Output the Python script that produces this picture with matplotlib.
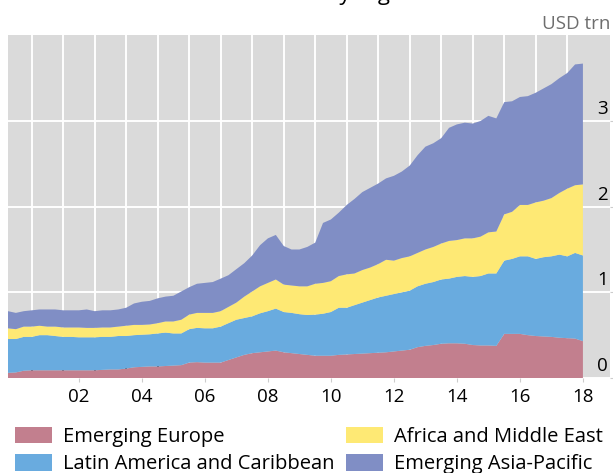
import matplotlib
matplotlib.use('Agg')
import matplotlib.pyplot as plt
import matplotlib.dates as mdates
import matplotlib.transforms as mtransforms
import pandas as pd

plt.rcParams['font.family'] = ['Open Sans', 'DejaVu Sans']

# quarterly, 2000Q1 - 2018Q2, USD trn
quarters = pd.date_range('2000-03-31', periods=74, freq='QE')

emerging_europe = [
    0.06, 0.065, 0.085, 0.09, 0.09, 0.09, 0.09, 0.09, 0.09, 0.09,
    0.09, 0.09, 0.095, 0.10, 0.10, 0.11, 0.125, 0.13, 0.135, 0.135,
    0.14, 0.145, 0.15, 0.18, 0.185, 0.18, 0.18, 0.18, 0.21, 0.24,
    0.27, 0.29, 0.30, 0.31, 0.32, 0.30, 0.29, 0.28, 0.27, 0.26,
    0.26, 0.26, 0.27, 0.275, 0.28, 0.285, 0.29, 0.295, 0.30, 0.31,
    0.32, 0.33, 0.36, 0.375, 0.385, 0.40, 0.405, 0.405, 0.40, 0.385,
    0.38, 0.38, 0.375, 0.515, 0.515, 0.515, 0.50, 0.49, 0.485, 0.48,
    0.47, 0.465, 0.46, 0.43]
latin_america = [
    0.395, 0.39, 0.395, 0.39, 0.41, 0.41, 0.40, 0.39, 0.39, 0.385,
    0.385, 0.385, 0.385, 0.38, 0.39, 0.38, 0.375, 0.375, 0.375, 0.385,
    0.39, 0.375, 0.37, 0.39, 0.40, 0.40, 0.40, 0.42, 0.43, 0.44,
    0.43, 0.43, 0.455, 0.47, 0.49, 0.47, 0.47, 0.465, 0.465, 0.48,
    0.49, 0.51, 0.55, 0.545, 0.57, 0.595, 0.62, 0.645, 0.66, 0.67,
    0.68, 0.69, 0.71, 0.725, 0.735, 0.75, 0.755, 0.775, 0.79, 0.795,
    0.81, 0.84, 0.845, 0.855, 0.875, 0.905, 0.92, 0.90, 0.925, 0.94,
    0.97, 0.955, 1.00, 1.00]
africa_middle_east = [
    0.125, 0.115, 0.12, 0.12, 0.11, 0.10, 0.11, 0.11, 0.11, 0.115,
    0.11, 0.11, 0.11, 0.11, 0.11, 0.12, 0.12, 0.115, 0.115, 0.12,
    0.13, 0.14, 0.16, 0.17, 0.175, 0.18, 0.18, 0.18, 0.19, 0.20,
    0.25, 0.29, 0.315, 0.33, 0.34, 0.32, 0.32, 0.325, 0.335, 0.36,
    0.36, 0.36, 0.37, 0.39, 0.37, 0.38, 0.38, 0.39, 0.42, 0.39,
    0.40, 0.40, 0.39, 0.40, 0.41, 0.42, 0.44, 0.43, 0.44, 0.45,
    0.46, 0.48, 0.49, 0.54, 0.55, 0.60, 0.60, 0.66, 0.66, 0.68,
    0.72, 0.79, 0.79, 0.83]
emerging_asia = [
    0.20, 0.19, 0.18, 0.19, 0.19, 0.20, 0.20, 0.20, 0.20, 0.20,
    0.215, 0.195, 0.20, 0.20, 0.20, 0.21, 0.25, 0.27, 0.275, 0.29,
    0.29, 0.30, 0.33, 0.32, 0.34, 0.35, 0.36, 0.38, 0.37, 0.39,
    0.39, 0.42, 0.48, 0.52, 0.52, 0.45, 0.42, 0.43, 0.46, 0.48,
    0.70, 0.72, 0.74, 0.81, 0.87, 0.91, 0.93, 0.94, 0.95, 0.99,
    1.01, 1.06, 1.14, 1.20, 1.21, 1.23, 1.32, 1.35, 1.35, 1.34,
    1.35, 1.36, 1.32, 1.31, 1.29, 1.26, 1.27, 1.28, 1.31, 1.33,
    1.34, 1.35, 1.41, 1.41]

labels = ['Emerging Europe', 'Latin America and Caribbean',
          'Africa and Middle East', 'Emerging Asia-Pacific']
colors = ['#c27f8e', '#69abdf', '#fee974', '#808ec5']

label_years = [2002, 2004, 2006, 2008, 2010, 2012, 2014, 2016, 2018]
label_text = ['02', '04', '06', '08', '10', '12', '14', '16', '18']
yticks = [0, 1, 2, 3]

fig = plt.figure(figsize=(6.13, 4.73), dpi=100)
ax = fig.add_axes([8 / 613, 1 - 378 / 473, 602 / 613, 342.7 / 473])
ax.set_facecolor('#dadada')

ax.stackplot(quarters, emerging_europe, latin_america, africa_middle_east,
             emerging_asia, labels=labels, colors=colors, lw=0, zorder=2)

ax.set_xlim(quarters[0], pd.Timestamp('2019-05-10'))
ax.set_ylim(0, 4)

# labels mid-year, black ticks and white grid at year boundaries
ax.xaxis.set_major_locator(plt.FixedLocator(
    [mdates.date2num(pd.Timestamp(y, 7, 2)) for y in label_years]))
ax.xaxis.set_major_formatter(plt.FixedFormatter(label_text))
ax.xaxis.set_minor_locator(plt.FixedLocator(
    [mdates.date2num(pd.Timestamp(y, 1, 1)) for y in range(2001, 2019)]))
ax.tick_params(axis='x', which='major', direction='out', length=3,
               color='#cccccc', labelsize=13.5, pad=4)
ax.tick_params(axis='x', which='minor', direction='in', length=9.5,
               width=1.4, color='#111111')
ax.grid(True, which='minor', axis='x', color='white', lw=1.4, zorder=1)
ax.set_axisbelow(True)

ax.set_yticks(yticks)
ax.grid(True, which='major', axis='y', color='white', lw=1.4, zorder=1)
ax.yaxis.tick_right()
ax.tick_params(axis='y', length=3, color='#cccccc', labelright=False)
off = mtransforms.offset_copy(ax.get_yaxis_transform(), fig=fig, x=-2, y=3, units='dots')
for v in yticks:
    ax.text(1.0, v, str(v), transform=off, ha='right', va='bottom',
            fontsize=13.5, zorder=5)

for s in ax.spines.values():
    s.set_visible(False)

fig.text(610 / 613, 1 - 29 / 473, 'USD trn', ha='right', va='baseline',
         fontsize=13.5, color='#6e6e6e')
fig.text(374 / 613, 1.0, 'By region', ha='center', va='baseline', fontsize=16)

fig.legend(loc='upper left', bbox_to_anchor=(15 / 613, 1 - 427 / 473), ncol=2,
           frameon=False, fontsize=14.5, handlelength=1.85, handleheight=0.85,
           handletextpad=0.55, columnspacing=0.55, labelspacing=0.37,
           borderaxespad=0, borderpad=0)

fig.savefig('out.png', dpi=100)
